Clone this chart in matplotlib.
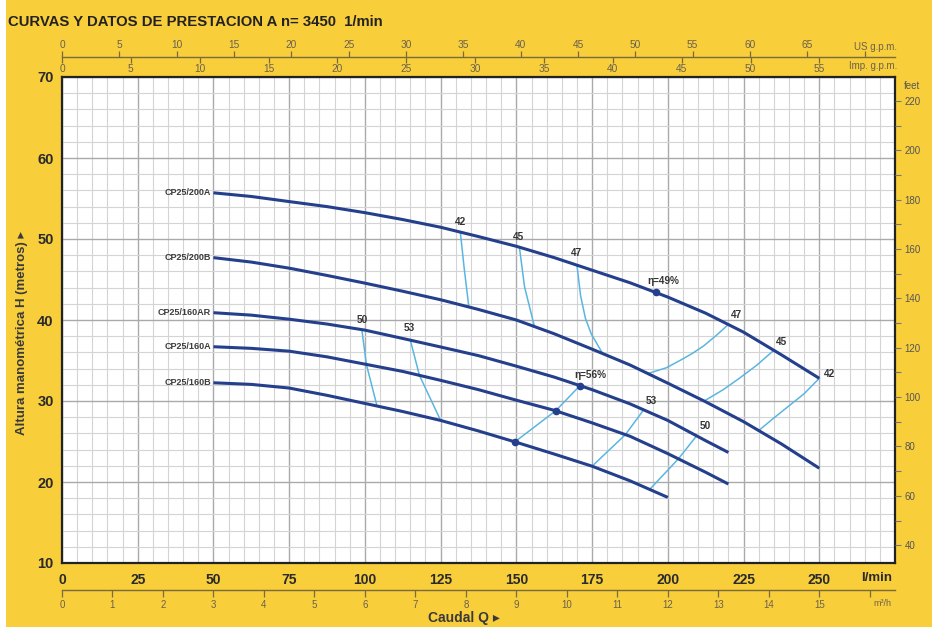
import matplotlib
matplotlib.use('Agg')
import matplotlib.pyplot as plt
import numpy as np
from matplotlib.patches import Rectangle

# ---------------- data ----------------
# pump curves: flow Q (l/min) and head H (m)
q_200a = [50, 62.5, 75, 87.5, 100, 112.5, 125, 137.5, 150, 162.5, 175, 187.5,
          200, 212.5, 225, 237.5, 250]
h_200a = [55.7, 55.25, 54.62, 54.0, 53.25, 52.4, 51.45, 50.3, 49.1, 47.7,
          46.15, 44.6, 42.83, 40.84, 38.5, 35.7, 32.8]
q_200b = [50, 62.5, 75, 87.5, 100, 112.5, 125, 137.5, 150, 162.5, 175, 187.5,
          200, 212.5, 225, 237.5, 250]
h_200b = [47.7, 47.15, 46.4, 45.5, 44.55, 43.55, 42.5, 41.3, 40.0, 38.3,
          36.4, 34.45, 32.2, 29.9, 27.45, 24.7, 21.7]
q_160ar = [50, 62.5, 75, 87.5, 100, 112.5, 125, 137.5, 150, 162.5, 175, 187.5,
           200, 212.5, 220]
h_160ar = [40.9, 40.6, 40.1, 39.5, 38.75, 37.72, 36.67, 35.6, 34.3, 32.95,
           31.4, 29.65, 27.6, 25.1, 23.65]
q_160a = [50, 62.5, 75, 87.5, 100, 112.5, 125, 137.5, 150, 162.5, 175, 187.5,
          200, 212.5, 220]
h_160a = [36.7, 36.5, 36.15, 35.45, 34.55, 33.65, 32.55, 31.4, 30.1, 28.85,
          27.3, 25.65, 23.5, 21.2, 19.75]
q_160b = [50, 62.5, 75, 87.5, 100, 112.5, 125, 137.5, 150, 162.5, 175, 187.5,
          200]
h_160b = [32.25, 32.05, 31.6, 30.7, 29.7, 28.7, 27.6, 26.3, 24.9, 23.45,
          21.95, 20.15, 18.1]
curve_names = ['CP25/200A', 'CP25/200B', 'CP25/160AR', 'CP25/160A', 'CP25/160B']

# iso-efficiency lines
e42l_q = [131.5, 132.8, 134.3];            e42l_h = [50.85, 46.3, 41.65]
e45l_q = [151, 152.7, 156];                e45l_h = [49.0, 44.1, 39.15]
e47l_q = [170, 171.2, 172.8, 174.7, 178.5]; e47l_h = [46.77, 43.0, 40.2, 38.3, 35.85]
e47r_q = [220, 216, 212, 208, 204, 199.5, 193.5]
e47r_h = [39.45, 38.1, 36.85, 35.85, 35.0, 34.1, 33.4]
e45r_q = [235, 229.3, 223.6, 218.3, 212]; e45r_h = [36.26, 34.4, 32.8, 31.4, 30.0]
e42r_q = [250, 245, 240, 235, 230];       e42r_h = [32.8, 30.9, 29.4, 27.9, 26.35]
e50l_q = [99, 100.5, 104];                 e50l_h = [38.75, 34.5, 29.38]
e53l_q = [115, 118, 125];                  e53l_h = [37.5, 33.17, 27.6]
e56_q = [171, 163, 149.5];                 e56_h = [31.9, 28.8, 24.95]
e53r_q = [192, 186, 175];                  e53r_h = [28.9, 25.85, 21.95]
e50r_q = [209.5, 203.5, 194];              e50r_h = [25.7, 22.86, 19.08]
e49_q = [196];                             e49_h = [43.4]

eff_labels = ['42', '45', '47', 'η=49%', '47', '45', '42',
              '50', '53', 'η=56%', '53', '50']
eff_label_q = [131.6, 150.7, 169.9, 198.5, 222.6, 237.5, 253.5,
               99.3, 114.8, 174.3, 194.5, 212.4]
eff_label_h = [52.1, 50.25, 48.3, 44.8, 40.6, 37.3, 33.3,
               40.0, 39.0, 33.2, 30.0, 26.9]

q_ticks = [0, 25, 50, 75, 100, 125, 150, 175, 200, 225, 250]
h_ticks = [10, 20, 30, 40, 50, 60, 70]
us_ticks = list(range(0, 70, 5))
imp_ticks = list(range(0, 60, 5))
m3h_ticks = list(range(0, 16))
feet_ticks = list(range(40, 221, 20))

# ---------------- style ----------------
YELLOW = '#F8CE3A'
NAVY = '#243F8C'
LIGHT = '#5AB6E0'
DARK = '#2A2A2A'
OLIVE = '#6A6150'
FONT = ['Liberation Sans', 'DejaVu Sans']
plt.rcParams['font.family'] = FONT

W, H = 932, 627
fig = plt.figure(figsize=(W / 100, H / 100), dpi=100, facecolor=YELLOW)
fig.patches.append(Rectangle((0, 0), 6 / W, 1, transform=fig.transFigure,
                             facecolor='white', edgecolor='none', zorder=0))

L, R, T, B = 62, 895, 77, 563
ax = fig.add_axes([L / W, 1 - B / H, (R - L) / W, (B - T) / H])
ax.set_facecolor('white')
ax.set_xlim(0, 275)
ax.set_ylim(10, 70)
ax.set_xticks(q_ticks, labels=[str(v) for v in q_ticks], fontweight='bold',
              fontsize=10, color=DARK)
ax.set_yticks(h_ticks, labels=[str(v) for v in h_ticks], fontweight='bold',
              fontsize=10.5, color=DARK)
ax.set_xticks(np.arange(0, 275, 5), minor=True)
ax.set_yticks(np.arange(10, 70, 2), minor=True)
ax.grid(which='minor', color='#D4D4D4', lw=0.8)
ax.grid(which='major', color='#AAAAAA', lw=1.0)
ax.set_axisbelow(True)
ax.tick_params(which='both', length=0)
ax.tick_params(axis='x', pad=7)
ax.tick_params(axis='y', pad=6)
for s in ax.spines.values():
    s.set_linewidth(1.6)
    s.set_color('#222222')

# pump curves
curves = [(q_200a, h_200a), (q_200b, h_200b), (q_160ar, h_160ar),
          (q_160a, h_160a), (q_160b, h_160b)]
for (qq, hh), name in zip(curves, curve_names):
    ax.plot(qq, hh, color=NAVY, lw=2.2, solid_capstyle='butt',
            solid_joinstyle='round', zorder=4)
    ax.text(qq[0] - 0.8, hh[0], name, ha='right', va='center', fontsize=6.5,
            fontweight='bold', color='#3C3C3C', zorder=5)

# efficiency lines
effs = [(e42l_q, e42l_h), (e45l_q, e45l_h), (e47l_q, e47l_h), (e47r_q, e47r_h),
        (e45r_q, e45r_h), (e42r_q, e42r_h), (e50l_q, e50l_h), (e53l_q, e53l_h),
        (e56_q, e56_h), (e53r_q, e53r_h), (e50r_q, e50r_h)]
for qq, hh in effs:
    ax.plot(qq, hh, color=LIGHT, lw=1.1, solid_joinstyle='round', zorder=3)
ax.plot(e56_q, e56_h, 'o', color=NAVY, ms=4.5, zorder=6)
ax.plot(e49_q, e49_h, 'o', color=NAVY, ms=4.5, zorder=6)
for t, qx, hy in zip(eff_labels, eff_label_q, eff_label_h):
    ax.text(qx, hy, t, ha='center', va='center', fontsize=7.2, fontweight='bold',
            color='#333333', zorder=7)

# right axis in feet
axr = ax.twinx()
axr.set_ylim(10 * 3.28084, 70 * 3.28084)
axr.set_yticks(feet_ticks, labels=[str(v) for v in feet_ticks], fontsize=7,
               color='#555555')
axr.set_yticks(np.arange(50, 221, 20), minor=True)
axr.tick_params(which='both', direction='out', length=4, width=0.8,
                color='#777777', pad=3)
for s in axr.spines.values():
    s.set_visible(False)
fig.text(904 / W, 1 - 86 / H, 'feet', fontsize=7, color='#555555',
         ha='left', va='center')

# top scales (US and Imp. g.p.m.) and bottom scale (m3/h)
def flat_axis(ypix, xmax):
    a = fig.add_axes([L / W, 1 - ypix / H, (R - L) / W, 0.00001])
    a.set_xlim(0, xmax)
    a.patch.set_visible(False)
    a.set_yticks([])
    for k in ['top', 'left', 'right']:
        a.spines[k].set_visible(False)
    a.spines['bottom'].set_color('#7A6B3E')
    a.spines['bottom'].set_linewidth(1.0)
    return a

ax_us = flat_axis(57, 275 / 3.78541)
ax_us.xaxis.tick_top()
ax_us.set_xticks(us_ticks, labels=[str(v) for v in us_ticks], fontsize=7.3,
                 color=OLIVE)
ax_us.set_xticks([70], minor=True)
ax_us.tick_params(which='both', direction='out', length=4, width=0.9,
                  color='#7A6B3E', pad=1)

ax_imp = flat_axis(57, 275 / 4.54609)
ax_imp.spines['bottom'].set_visible(False)
ax_imp.xaxis.tick_bottom()
ax_imp.set_xticks(imp_ticks, labels=[str(v) for v in imp_ticks], fontsize=7.3,
                  color=OLIVE)
ax_imp.tick_params(which='both', direction='out', length=4, width=0.9,
                   color='#7A6B3E', pad=1)
fig.text(897 / W, 1 - 47 / H, 'US g.p.m.', fontsize=7, color=OLIVE,
         ha='right', va='center')
fig.text(897 / W, 1 - 66 / H, 'Imp. g.p.m.', fontsize=7, color=OLIVE,
         ha='right', va='center')

ax_m3 = flat_axis(590, 275 / 16.6667)
ax_m3.set_xticks(m3h_ticks, labels=[str(v) for v in m3h_ticks], fontsize=7,
                 color=OLIVE)
ax_m3.set_xticks([16], minor=True)
ax_m3.tick_params(which='both', direction='out', length=5, width=0.9,
                  color='#7A6B3E', pad=2)
fig.text(882 / W, 1 - 604 / H, 'm³/h', fontsize=6.5, color=OLIVE,
         ha='center', va='center')
fig.text(877 / W, 1 - 578 / H, 'l/min', fontsize=9.5, fontweight='bold',
         color=DARK, ha='center', va='center')

# titles and axis labels
fig.text(8 / W, 1 - 22 / H, 'CURVAS Y DATOS DE PRESTACION A n= 3450  1/min',
         fontsize=10.7, fontweight='bold', color='#222222', ha='left',
         va='center')
fig.text(22 / W, 1 - 333 / H, 'Altura manométrica H (metros) ▸', rotation=90,
         fontsize=9.5, fontweight='bold', color='#3A3A3A', ha='center',
         va='center')
fig.text(464 / W, 1 - 618 / H, 'Caudal Q ▸', fontsize=10, fontweight='bold',
         color='#3A3A3A', ha='center', va='center')

fig.savefig('out.png', dpi=100, facecolor=YELLOW)
